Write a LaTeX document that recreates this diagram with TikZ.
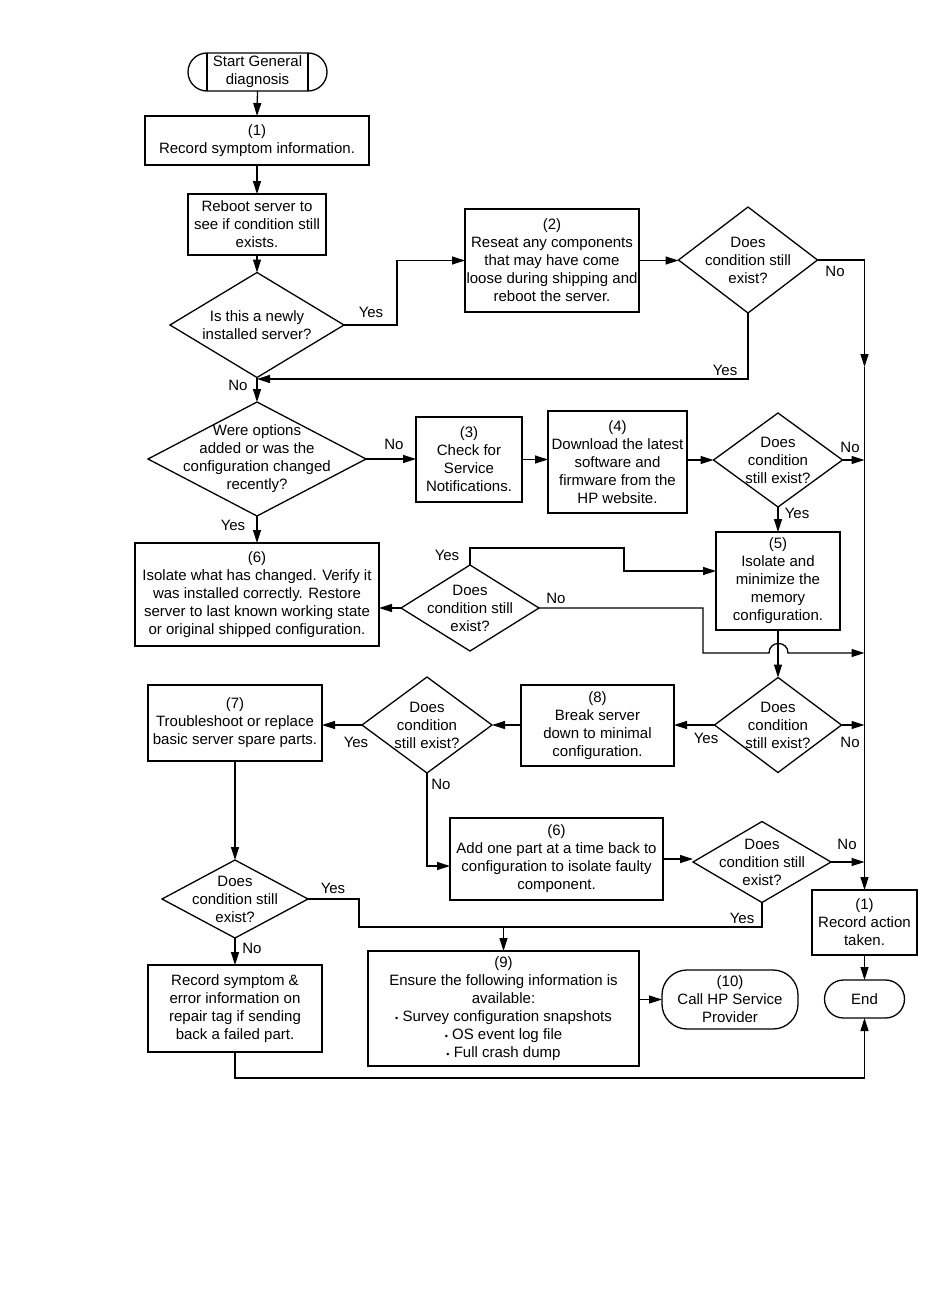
\documentclass[tikz,border=0pt]{standalone}
\usepackage{fontspec}
\setmainfont{Liberation Sans}
\usetikzlibrary{arrows.meta}
\begin{document}
\begin{tikzpicture}[x=1pt,y=-1pt,
  font=\fontsize{15}{18}\selectfont,
  every node/.style={inner sep=0pt, outer sep=0pt, align=center},
  ln/.style={line width=1.3pt, draw=black},
  box/.style={rectangle, ln},
  term/.style={rectangle, ln, rounded corners=#1},
  dia/.style={rectangle},
  arr/.style={ln, -{Triangle[length=13pt,width=8pt]}},
  lab/.style={font=\fontsize{15}{18}\selectfont}
]
\fill[white] (0,0) rectangle (950,1307);
\useasboundingbox (0,0) rectangle (950,1307);

% terminals
\node[term=19pt, minimum width=139pt, minimum height=38pt] (t0) at (257.5,72) {Start General\\diagnosis};
\draw[ln] ([xshift=19pt]t0.north west) -- ([xshift=19pt]t0.south west);
\draw[ln] ([xshift=-19pt]t0.north east) -- ([xshift=-19pt]t0.south east);
\node[term=25pt, minimum width=136pt, minimum height=59pt] (t1) at (730,999.5) {(10)\\Call HP Service\\Provider};
\node[term=19pt, minimum width=80pt, minimum height=38pt] (t2) at (864.5,999) {End};

% boxes
\node[box, minimum width=224pt, minimum height=49pt] (b1) at (257,140.5) {(1)\\Record symptom information.};
\node[box, minimum width=138pt, minimum height=61pt] (b2) at (257,224.5) {Reboot server to\\see if condition still\\exists.};
\node[box, minimum width=174pt, minimum height=103pt] (b3) at (552,260.5) {(2)\\Reseat any components\\that may have come\\loose during shipping and\\reboot the server.};
\node[box, minimum width=106pt, minimum height=85pt] (b4) at (469,459.5) {(3)\\Check for\\Service\\Notifications.};
\node[box, minimum width=139pt, minimum height=102pt] (b5) at (617.5,462) {(4)\\Download the latest\\software and\\firmware from the\\HP website.};
\node[box, minimum width=124pt, minimum height=98pt] (b6) at (778,581) {(5)\\Isolate and\\minimize the\\memory\\configuration.};
\node[box, minimum width=244pt, minimum height=103pt] (b7) at (257,594.5) {(6)\\Isolate what has changed. Verify it\\was installed correctly. Restore\\server to last known working state\\or original shipped configuration.};
\node[box, minimum width=153pt, minimum height=81pt] (b8) at (597.5,725.5) {(8)\\Break server\\down to minimal\\configuration.};
\node[box, minimum width=174pt, minimum height=76pt] (b9) at (235,723) {(7)\\Troubleshoot or replace\\basic server spare parts.};
\node[box, minimum width=213pt, minimum height=82pt] (b10) at (556.5,859) {(6)\\Add one part at a time back to\\configuration to isolate faulty\\component.};
\node[box, minimum width=174pt, minimum height=87pt] (b11) at (235,1008.5) {Record symptom \&\\error information on\\repair tag if sending\\back a failed part.};
\node[box, minimum width=271pt, minimum height=115pt] (b12) at (503.5,1008.5) {(9)\\Ensure the following information is\\available:\\{\small•} Survey configuration snapshots\\{\small•} OS event log file\\{\small•} Full crash dump};
\node[box, minimum width=105pt, minimum height=65pt] (b13) at (864.5,922.5) {(1)\\Record action\\taken.};

% diamonds
\node[dia, minimum width=174pt, minimum height=105pt] (d1) at (257,325) {Is this a newly\\installed server?};
\node[dia, minimum width=139pt, minimum height=106pt] (d2) at (748,260) {Does\\condition still\\exist?};
\node[dia, minimum width=218pt, minimum height=114pt] (d3) at (257,459) {Were options\\added or was the\\configuration changed\\recently?};
\node[dia, minimum width=129pt, minimum height=94pt] (d4) at (778,460) {Does\\condition\\still exist?};
\node[dia, minimum width=138pt, minimum height=86pt] (d5) at (470,608) {Does\\condition still\\exist?};
\node[dia, minimum width=127pt, minimum height=95pt] (d6) at (778,725) {Does\\condition\\still exist?};
\node[dia, minimum width=130pt, minimum height=96pt] (d7) at (427,725) {Does\\condition\\still exist?};
\node[dia, minimum width=138pt, minimum height=81pt] (d8) at (762,862) {Does\\condition still\\exist?};
\node[dia, minimum width=146pt, minimum height=78pt] (d9) at (235,899) {Does\\condition still\\exist?};
\foreach \n in {d1,d2,d3,d4,d5,d6,d7,d8,d9}
  \draw[ln, line join=miter] (\n.north) -- (\n.east) -- (\n.south) -- (\n.west) -- cycle;

% coordinates
\coordinate (j1) at (257,379);
\coordinate (tr1) at (864.5,260);
\coordinate (tr2) at (864.5,367);
\coordinate (i4) at (864.5,460);
\coordinate (i5) at (864.5,653);
\coordinate (i6) at (864.5,725);
\coordinate (i8) at (864.5,862);
\coordinate (c7) at (450,866);
\coordinate (c9) at (359,927);
\coordinate (c10) at (503.5,927);
\coordinate (y5) at (624,548);
\coordinate (y6) at (716,571);

% connectors
\draw[arr] (t0.south) -- (b1.north);
\draw[arr] (b1.south) -- (b2.north);
\draw[arr] (b2.south) -- (d1.north);
\draw[arr] (d1.east) -- (397,325) |- (b3.west);
\draw[arr] (b3.east) -- (b3.east -| d2.west);
\draw[arr] (d2.east) -- (tr1) -- (tr2);
\draw[arr] (tr2) -- (b13.north);
\draw[arr] (d2.south) |- (j1);
\draw[arr] (d1.south) -- (d3.north);
\draw[arr] (d3.east) -- (d3.east -| b4.west);
\draw[arr] (b4.east) -- (b4.east -| b5.west);
\draw[arr] (d4.west -| b5.east) -- (d4.west);
\draw[arr] (d4.east) -- (i4);
\draw[arr] (d4.south) -- (b6.north);
\draw[arr] (d3.south) -- (b7.north);
\draw[arr] (d5.west) -- (d5.west -| b7.east);
\draw[arr] (d5.north) |- (y5) |- (y6);
\draw[arr] (d5.east) -- (703,608) -- (703,653) -- (769,653) .. controls (769,640.3) and (788,640.3) .. (788,653) -- (i5);
\draw[arr] (b6.south) -- (d6.north);
\draw[arr] (d6.east) -- (i6);
\draw[arr] (d6.west) -- (d6.west -| b8.east);
\draw[arr] (b8.west |- d7.east) -- (d7.east);
\draw[arr] (d7.west) -- (d7.west -| b9.east);
\draw[arr] (d7.south) |- (c7);
\draw[arr] (b10.east) -- (b10.east -| d8.west);
\draw[arr] (d8.east) -- (i8);
\draw[ln] (d9.east) -| (c9) -| (d8.south);
\draw[arr] (c10) -- (b12.north);
\draw[arr] (b9.south) -- (d9.north);
\draw[arr] (d9.south) -- (b11.north);
\draw[arr] (b11.south) -- (235,1078) -| (t2.south);
\draw[arr] (b12.east |- t1.west) -- (t1.west);
\draw[arr] (b13.south) -- (t2.north);

% labels
\node[lab] (l1) at (371,312) {Yes};
\node[lab] (l2) at (835,271) {No};
\node[lab] (l3) at (725,370) {Yes};
\node[lab] (l4) at (238,385) {No};
\node[lab] (l5) at (394,444) {No};
\node[lab] (l6) at (233,525) {Yes};
\node[lab] (l7) at (850,447) {No};
\node[lab] (l8) at (797,513) {Yes};
\node[lab] (l9) at (447,555) {Yes};
\node[lab] (l10) at (556,598) {No};
\node[lab] (l11) at (706,738) {Yes};
\node[lab] (l12) at (850,742) {No};
\node[lab] (l13) at (356,742) {Yes};
\node[lab] (l14) at (441,784) {No};
\node[lab] (l15) at (847,844) {No};
\node[lab] (l16) at (333,888) {Yes};
\node[lab] (l17) at (742,918) {Yes};
\node[lab] (l18) at (252,948) {No};
\end{tikzpicture}
\end{document}
